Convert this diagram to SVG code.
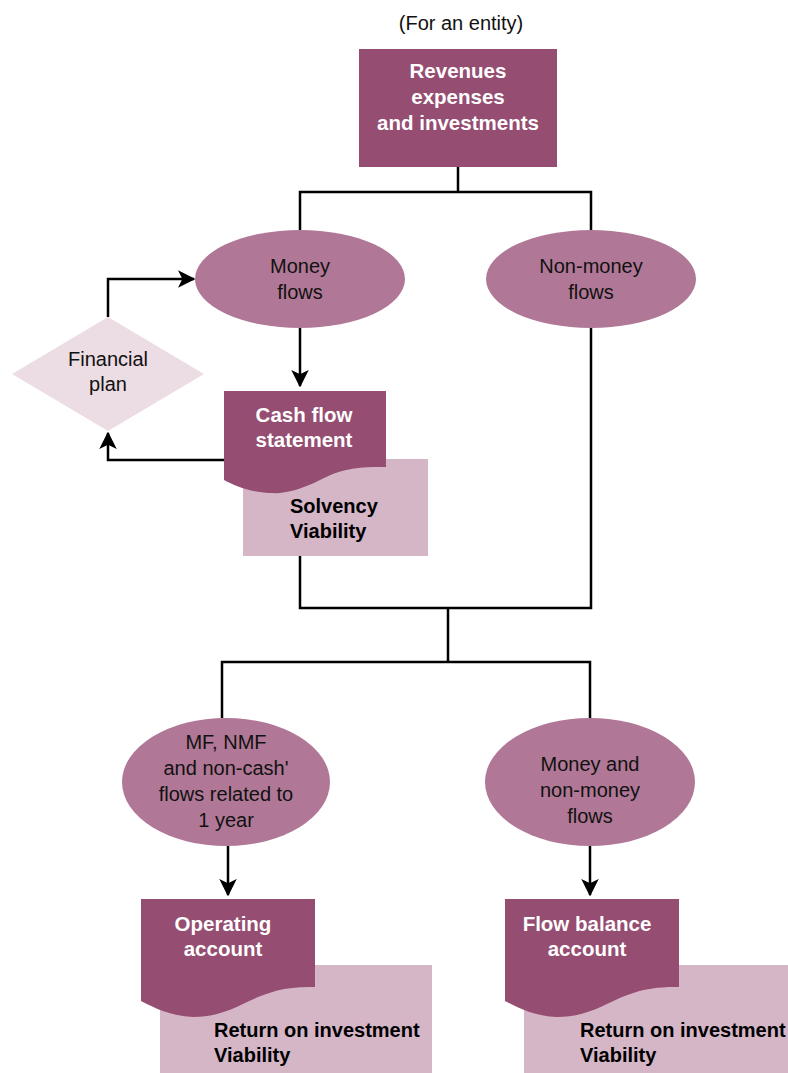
<svg xmlns="http://www.w3.org/2000/svg" width="788" height="1073" viewBox="0 0 788 1073">
<style>
.dark{fill:#954d71}
.ell{fill:#b07896}
.light{fill:#d5b6c7}
.dia{fill:#ecdde4}
.ln{fill:none;stroke:#000;stroke-width:2.5}
.wt{font-family:"Liberation Sans",Arial,sans-serif;font-size:20.5px;font-weight:bold;fill:#fff;text-anchor:middle}
.bt{font-family:"Liberation Sans",Arial,sans-serif;font-size:20px;font-weight:bold;fill:#000}
.nt{font-family:"Liberation Sans",Arial,sans-serif;font-size:20px;fill:#111;text-anchor:middle}
</style>
<defs>
<marker id="arr" viewBox="0 0 12 12" refX="11" refY="6" markerWidth="7" markerHeight="7" markerUnits="strokeWidth" orient="auto">
<path d="M0,0 L12,6 L0,12 L3,6 Z" fill="#000"/>
</marker>
</defs>
<text x="461" y="30" class="nt">(For an entity)</text>
<g id="revenues">
<rect x="359" y="49" width="198" height="118" class="dark"/>
<text x="458" y="78" class="wt">Revenues</text>
<text x="458" y="104" class="wt">expenses</text>
<text x="458" y="130" class="wt">and investments</text>
</g>
<g id="money-flows">
<ellipse cx="300" cy="279" rx="105" ry="49" class="ell"/>
<text x="300" y="273" class="nt">Money</text>
<text x="300" y="299" class="nt">flows</text>
</g>
<g id="non-money-flows">
<ellipse cx="591" cy="279" rx="105" ry="49" class="ell"/>
<text x="591" y="273" class="nt">Non-money</text>
<text x="591" y="299" class="nt">flows</text>
</g>
<g id="financial-plan">
<polygon points="12,374 108,317 204,374 108,431" class="dia"/>
<text x="108" y="366" class="nt">Financial</text>
<text x="108" y="391" class="nt">plan</text>
</g>
<g id="cash-flow">
<rect x="243" y="459" width="185" height="97" class="light"/>
<path d="M224,391 H386 V467 C350,466 335,472 320,480 C300,490 285,494 270,493 C250,492 235,486 224,480 Z" class="dark"/>
<text x="304" y="422" class="wt">Cash flow</text>
<text x="304" y="447" class="wt">statement</text>
<text x="290" y="513" class="bt">Solvency</text>
<text x="290" y="538" class="bt">Viability</text>
</g>
<g id="mf-nmf">
<ellipse cx="226" cy="782" rx="104" ry="64" class="ell"/>
<text x="226" y="749" class="nt">MF,  NMF</text>
<text x="226" y="775" class="nt">and  non-cash'</text>
<text x="226" y="801" class="nt">flows related to</text>
<text x="226" y="827" class="nt">1 year</text>
</g>
<g id="money-nonmoney">
<ellipse cx="590" cy="782" rx="105" ry="64" class="ell"/>
<text x="590" y="771" class="nt">Money  and</text>
<text x="590" y="797" class="nt">non-money</text>
<text x="590" y="823" class="nt">flows</text>
</g>
<g id="operating-account">
<rect x="160" y="965" width="272" height="108" class="light"/>
<path d="M141,899 H315 V987 C280,986 262,995 245,1003 C225,1013 210,1017 193,1017 C170,1016 155,1008 141,1001 Z" class="dark"/>
<text x="223" y="931" class="wt">Operating</text>
<text x="223" y="956" class="wt">account</text>
<text x="214" y="1037" class="bt">Return on investment</text>
<text x="214" y="1062" class="bt">Viability</text>
</g>
<g id="flow-balance-account">
<rect x="524" y="965" width="264" height="108" class="light"/>
<path d="M505,899 H679 V987 C644,986 626,995 609,1003 C589,1013 574,1017 557,1017 C534,1016 519,1008 505,1001 Z" class="dark"/>
<text x="587" y="931" class="wt">Flow balance</text>
<text x="587" y="956" class="wt">account</text>
<text x="580" y="1037" class="bt">Return on investment</text>
<text x="580" y="1062" class="bt">Viability</text>
</g>
<g id="connectors">
<path d="M458,167 V192 M300,230 V192 H591 V230" class="ln"/>
<path d="M300,328 V386" class="ln" marker-end="url(#arr)"/>
<path d="M108,317 V279 H194" class="ln" marker-end="url(#arr)"/>
<path d="M224,460 H108 V433" class="ln" marker-end="url(#arr)"/>
<path d="M300,556 V608 H591 V328 M448,608 V662 M222,718 V662 H590 V718" class="ln"/>
<path d="M228,846 V895" class="ln" marker-end="url(#arr)"/>
<path d="M590,846 V895" class="ln" marker-end="url(#arr)"/>
</g>
</svg>
